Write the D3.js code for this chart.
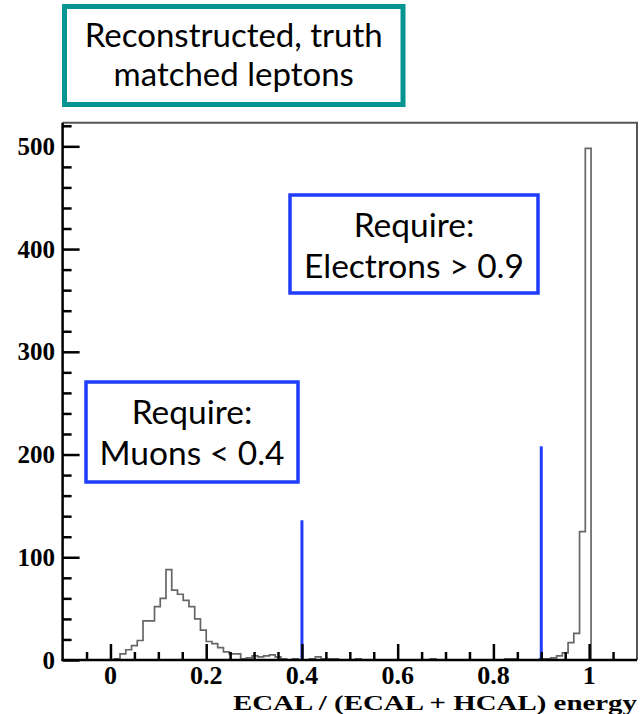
<!DOCTYPE html>
<html>
<head>
<meta charset="utf-8">
<script src="https://cdn.jsdelivr.net/npm/d3@7"></script>
<style>
  body { margin: 0; background: #fff; }
  svg { display: block; }
</style>
</head>
<body>
<div id="chart"></div>
<script>
// histogram: 100 bins from -0.1 to 1.1
var binLow = -0.1;
var binWidth = 0.012;
var counts = [
    0, 0, 0, 0, 0, 0, 0, 0, 0, 1,        // -0.100 .. 0.008
    6, 10, 14, 19, 38, 38, 52, 60, 88, 68, // 0.020 .. 0.128
    64, 58, 52, 40, 29, 18, 16, 12, 8, 6, // 0.140 .. 0.248
    6, 1, 2, 4, 3, 4, 5, 3, 1, 0,         // 0.260 .. 0.368
    1, 0, 0, 1, 3, 1, 1, 1, 0, 0,         // 0.380 .. 0.488
    0, 1, 0, 0, 0, 0, 0, 0, 0, 0,         // 0.500 .. 0.608
    0, 0, 0, 0, 1, 0, 0, 0, 0, 0,         // 0.620 .. 0.728
    0, 0, 0, 0, 0, 0, 0, 1, 1, 0,         // 0.740 .. 0.848
    0, 0, 0, 1, 1, 2, 4, 7, 17, 26,       // 0.860 .. 0.968
    125, 498, 0, 0, 0, 0, 0, 0, 0, 0      // 0.980 .. 1.088
];

// cut lines
var cutX = [0.4, 0.9];
var cutHeight = [136, 208];

var xMajor = [0, 0.2, 0.4, 0.6, 0.8, 1];
var xTickLabels = ["0", "0.2", "0.4", "0.6", "0.8", "1"];
var yMajor = [0, 100, 200, 300, 400, 500];

var xTitle = "ECAL / (ECAL + HCAL) energy";
var titleLines = ["Reconstructed, truth", "matched leptons"];
var electronLines = ["Require:", "Electrons > 0.9"];
var muonLines = ["Require:", "Muons < 0.4"];

var svgWidth = 643;
var svgHeight = 714;

var plot = { left: 62.6, right: 637, top: 122.7, bottom: 660 };

var svg = d3.select("#chart")
    .append("svg")
    .attr("width", svgWidth)
    .attr("height", svgHeight);

var x = d3.scaleLinear()
    .domain([-0.1, 1.1])
    .range([plot.left, plot.right]);

var y = d3.scaleLinear()
    .domain([0, 523])
    .range([plot.bottom, plot.top]);

// frame (top and right in grey)
svg.append("path")
    .attr("d", `M${plot.left},${plot.top}H${plot.right}V${plot.bottom}`)
    .attr("fill", "none")
    .attr("stroke", "#555")
    .attr("stroke-width", 2);

// histogram outline
var steps = counts.map((c, i) => [binLow + i * binWidth, c]);
steps.push([binLow + counts.length * binWidth, counts[counts.length - 1]]);

var histLine = d3.line()
    .x(d => x(d[0]))
    .y(d => y(d[1]))
    .curve(d3.curveStepAfter);

svg.append("path")
    .datum(steps)
    .attr("d", histLine)
    .attr("fill", "none")
    .attr("stroke", "#666")
    .attr("stroke-width", 1.7);

// cut lines
svg.selectAll(".cut")
    .data(cutX)
    .enter()
    .append("line")
    .attr("class", "cut")
    .attr("x1", d => x(d))
    .attr("x2", d => x(d))
    .attr("y1", y(0))
    .attr("y2", (d, i) => y(cutHeight[i]))
    .attr("stroke", "#1f3cff")
    .attr("stroke-width", 3);

// x axis: ticks pointing up
var xTicksAll = d3.range(-0.05, 1.1, 0.05).map(v => Math.round(v * 100) / 100);
var xAxis = d3.axisTop(x)
    .tickValues(xTicksAll)
    .tickSize(8)
    .tickFormat("");
var xg = svg.append("g")
    .attr("transform", `translate(0, ${plot.bottom})`)
    .call(xAxis);
xg.selectAll(".tick line")
    .attr("stroke", "#000")
    .attr("stroke-width", 2.5)
    .attr("y2", d => xMajor.some(m => Math.abs(m - d) < 1e-6) ? -16 : -8);
xg.select(".domain").remove();

svg.append("line")
    .attr("x1", plot.left - 1)
    .attr("x2", plot.right)
    .attr("y1", plot.bottom)
    .attr("y2", plot.bottom)
    .attr("stroke", "#000")
    .attr("stroke-width", 2.5);

var serif = "'Liberation Serif', 'Times New Roman', serif";

svg.selectAll(".xlab")
    .data(xMajor)
    .enter()
    .append("text")
    .attr("class", "xlab")
    .attr("x", d => x(d))
    .attr("y", 684)
    .attr("text-anchor", "middle")
    .style("font-family", serif)
    .style("font-weight", "bold")
    .style("font-size", "26px")
    .text((d, i) => xTickLabels[i]);

svg.append("text")
    .attr("x", plot.right)
    .attr("y", 710)
    .attr("text-anchor", "end")
    .attr("textLength", 404)
    .attr("lengthAdjust", "spacingAndGlyphs")
    .style("font-family", serif)
    .style("font-weight", "bold")
    .style("font-size", "22px")
    .text(xTitle);

// y axis: ticks pointing right
var yAxis = d3.axisRight(y)
    .tickValues(d3.range(0, 521, 20))
    .tickSize(9)
    .tickFormat("");
var yg = svg.append("g")
    .attr("transform", `translate(${plot.left}, 0)`)
    .call(yAxis);
yg.selectAll(".tick line")
    .attr("stroke", "#000")
    .attr("stroke-width", 2.5)
    .attr("x2", d => d % 100 === 0 ? 17 : 9);
yg.select(".domain").remove();

svg.append("line")
    .attr("x1", plot.left)
    .attr("x2", plot.left)
    .attr("y1", plot.top)
    .attr("y2", plot.bottom + 1)
    .attr("stroke", "#000")
    .attr("stroke-width", 2.5);

svg.selectAll(".ylab")
    .data(yMajor)
    .enter()
    .append("text")
    .attr("class", "ylab")
    .attr("x", 55)
    .attr("y", d => y(d) + 8.5)
    .attr("text-anchor", "end")
    .style("font-family", serif)
    .style("font-weight", "bold")
    .style("font-size", "25px")
    .text(d => d);

// text boxes
function textBox(box, lines, color, strokeW, baselines, size) {
    svg.append("rect")
        .attr("x", box.x)
        .attr("y", box.y)
        .attr("width", box.w)
        .attr("height", box.h)
        .attr("fill", "#fff")
        .attr("stroke", color)
        .attr("stroke-width", strokeW);
    svg.selectAll(null)
        .data(lines)
        .enter()
        .append("text")
        .attr("x", box.x + box.w / 2)
        .attr("y", (d, i) => baselines[i])
        .attr("text-anchor", "middle")
        .style("font-family", "Lato, 'Open Sans', sans-serif")
        .style("font-size", size + "px")
        .attr("fill", "#000")
        .text(d => d);
}

textBox({ x: 64.5, y: 6.5, w: 338.5, h: 98 }, titleLines, "#079591", 5, [47, 86], 33);
textBox({ x: 290, y: 195, w: 248, h: 98 }, electronLines, "#1f3cff", 3.5, [237, 278], 33.5);
textBox({ x: 86, y: 382, w: 212, h: 100 }, muonLines, "#1f3cff", 3.5, [424, 465], 33.5);
</script>
</body>
</html>
